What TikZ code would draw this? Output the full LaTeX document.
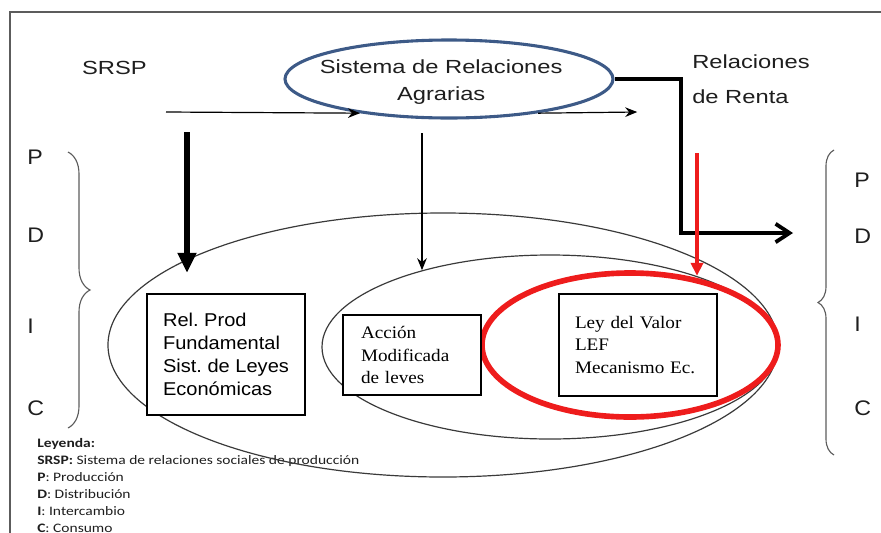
\documentclass[tikz,border=0pt]{standalone}
\usepackage{fontspec}
\usetikzlibrary{arrows.meta,shapes.geometric,decorations.pathreplacing}
\setmainfont{Liberation Serif}
\newfontfamily\headfont[FakeStretch=1.25]{Liberation Sans}
\newfontfamily\boxfont[FakeStretch=1.08]{Liberation Sans}
\newfontfamily\letterfont[FakeStretch=1.1]{Liberation Sans}
\newfontfamily\serifbox[FakeStretch=1.09]{Liberation Serif}
\newfontfamily\legendfont[FakeStretch=1.2]{Carlito}
\definecolor{agrblue}{HTML}{3D5A87}
\definecolor{rentared}{HTML}{EE1C1C}
\definecolor{framegray}{HTML}{5C5C5C}
\definecolor{linegray}{HTML}{3A3A3A}
\definecolor{inkgray}{HTML}{1E1E1E}
\frenchspacing

\begin{document}
\begin{tikzpicture}[
 heading/.style={font=\headfont\fontsize{13.5pt}{19pt}\selectfont,align=center,inner sep=0pt,text=inkgray},
 letter/.style={font=\letterfont\fontsize{15pt}{18pt}\selectfont,anchor=west,inner sep=0pt,text=inkgray},
 level/.style={ellipse,draw=linegray,line width=0.85pt,inner sep=0pt},
 lawbox/.style={draw=black,fill=white,line width=0.9pt,align=left,inner ysep=0pt},
 sansbox/.style={lawbox,font=\boxfont\fontsize{13.2pt}{16.2pt}\selectfont},
 serifbox/.style={lawbox,font=\serifbox\fontsize{12.5pt}{16pt}\selectfont},
 brace/.style={decorate,draw=framegray,line width=0.8pt},
 flow/.style={-{Stealth[length=3mm,width=2.4mm]},draw=black,line width=0.85pt},
 heavy/.style={-{Triangle[length=5mm,width=4.5mm]},draw=black,line width=4.5pt},
 rentaflow/.style={-{Straight Barb[length=3.5mm,width=4.6mm]},draw=black,line width=2.7pt},
 redflow/.style={-{Triangle[length=3.2mm,width=3mm]},draw=rentared,line width=2.7pt}
]
\useasboundingbox (0,0) rectangle (22.025,-13.3);
\draw[framegray,line width=1.4pt] (0.25,-14) |- (23,-0.3);

\node[font=\legendfont\fontsize{9.2pt}{12.1pt}\selectfont,align=left,anchor=north west,inner sep=0pt,text=inkgray] (leyenda) at (0.925,-10.95)
 {\textbf{Leyenda:}\\\textbf{SRSP:} Sistema de relaciones sociales de producción\\\textbf{P}: Producción\\\textbf{D}: Distribución\\\textbf{I}: Intercambio\\\textbf{C}: Consumo};

\node[level,minimum width=16.75cm,minimum height=6.6cm] (prod) at (11.075,-8.625) {};
\node[level,minimum width=11.4cm,minimum height=4.6cm] (mod) at (13.75,-8.675) {};
\node[ellipse,draw=rentared,line width=4pt,minimum width=7.4cm,minimum height=3.6cm,inner sep=0pt] (valor) at (15.75,-8.625) {};
\node[ellipse,draw=agrblue,line width=2.2pt,minimum width=8.2cm,minimum height=1.95cm,inner sep=0pt] (agr) at (11.225,-1.975) {};

\node[sansbox,minimum width=3.95cm,minimum height=3.025cm] (relprod) at (5.65,-8.86)
 {Rel. Prod\\Fundamental\\Sist. de Leyes\\Económicas};
\node[serifbox,text width=2.55cm,inner xsep=0.45cm,minimum height=2cm] (accion) at (10.3,-8.875)
 {Acción\\Modificada\\de leves};
\node[serifbox,text width=3.15cm,inner xsep=0.4cm,minimum height=2.55cm] (ley) at (15.95,-8.625)
 {Ley del Valor\\LEF\\Mecanismo Ec.};

\node[heading] (srsp) at (2.86,-1.71) {SRSP};
\node[heading] (agrtext) at (11.03,-2.05) {Sistema de Relaciones\\Agrarias};
\node[heading,align=left,anchor=west,font=\headfont\fontsize{13.5pt}{25pt}\selectfont] (renta) at (17.3,-1.98) {Relaciones\\de Renta};

\node[letter] (pl) at (0.675,-3.925) {P};
\node[letter] (dl) at (0.675,-5.875) {D};
\node[letter] (il) at (0.675,-8.15) {I};
\node[letter] (cl) at (0.675,-10.2) {C};
\node[letter] (pr) at (21.35,-4.5) {P};
\node[letter] (dr) at (21.35,-5.9) {D};
\node[letter] (ir) at (21.35,-8.1) {I};
\node[letter] (cr) at (21.35,-10.2) {C};
\draw[brace,decoration={brace,amplitude=0.55cm}] (1.7,-3.8) -- (1.7,-10.7);
\draw[brace,decoration={brace,amplitude=0.4cm}] (20.85,-11.375) -- (20.85,-3.75);

\coordinate (srspstart) at (4.15,-2.8);
\coordinate (agrend) at (15.93,-2.8);
\coordinate (heavytop) at (4.675,-3.3);
\coordinate (modtop) at (10.55,-3.325);
\coordinate (redtop) at (17.425,-3.825);
\coordinate (rentaturn) at (17.025,-5.825);
\coordinate (dend) at (19.825,-5.825);

\draw[flow] (srspstart) -- (agr.201);
\draw[flow] (agr.339) -- (agrend);
\draw[heavy,shorten >=-0.3cm] (heavytop) -- (heavytop |- prod.162);
\draw[flow] (modtop) -- (modtop |- mod.149);
\draw[rentaflow] (agr.east) -| (rentaturn) -- (dend);
\draw[redflow] (redtop) -- (redtop |- mod.26);
\end{tikzpicture}
\end{document}
